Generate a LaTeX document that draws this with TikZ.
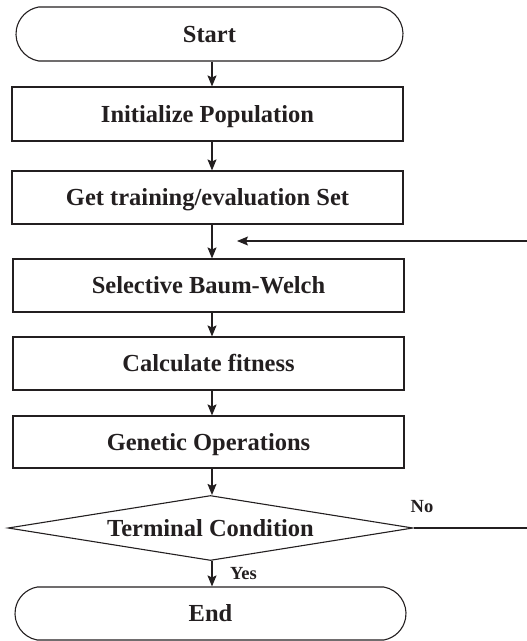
\documentclass[tikz,border=0pt]{standalone}
\usepackage{fontspec}
\setmainfont{Liberation Serif}
\usetikzlibrary{shapes.geometric,shapes.misc,arrows.meta}
\definecolor{ink}{HTML}{231F20}
\begin{document}
\begin{tikzpicture}[x=1pt,y=-1pt,
  every node/.style={text=ink,font=\fontsize{24.5}{29}\selectfont\bfseries},
  txt/.style={text height=16.2pt,text depth=0pt},
  proc/.style={txt,draw=ink,line width=1.1pt,rectangle,inner sep=0pt,minimum width=391pt,minimum height=53pt},
  term/.style={txt,draw=ink,line width=1.1pt,rounded rectangle,rounded rectangle arc length=160,inner sep=0pt,minimum height=54pt},
  cond/.style={txt,draw=ink,line width=1.1pt,diamond,aspect=6.2,inner sep=0pt,minimum width=405pt,minimum height=65pt},
  lbl/.style={font=\fontsize{18.5}{22}\selectfont\bfseries},
  conn/.style={draw=ink,line width=1.1pt},
  arr/.style={conn,-{Stealth[length=11pt,width=9pt,inset=2pt]}}]
\useasboundingbox (0,0) rectangle (527,641);
\node[term,minimum width=387pt] (start) at (209.5,34) {Start};
\node[proc,minimum height=54pt] (init) at (207.5,114) {Initialize Population};
\node[proc] (get) at (207.5,197.5) {Get training/evaluation Set};
\node[proc] (sel) at (208.5,285.5) {Selective Baum-Welch};
\node[proc] (calc) at (208.5,363.5) {Calculate fitness};
\node[proc,minimum height=52pt] (gen) at (208.5,442) {Genetic Operations};
\node[cond] (dec) at (210.5,528) {Terminal Condition};
\node[term,minimum width=391pt,minimum height=53pt] (end) at (210.5,613.5) {End};
\coordinate (ax) at (212,0);
\coordinate (fbR) at (527,241);
\coordinate (fbL) at (237,241);
\coordinate (noR) at (527,528);
\draw[arr] (start.south -| ax) -- (init.north -| ax);
\draw[arr] (init.south -| ax) -- (get.north -| ax);
\draw[arr] (get.south -| ax) -- (sel.north -| ax);
\draw[arr] (sel.south -| ax) -- (calc.north -| ax);
\draw[arr] (calc.south -| ax) -- (gen.north -| ax);
\draw[arr] (gen.south -| ax) -- (dec.north -| ax);
\draw[arr] (dec.south -| ax) -- (end.north -| ax);
\draw[arr] (fbR) -- (fbL);
\draw[conn] (dec.east) -- (noR);
\node[lbl] (no) at (422,507) {No};
\node[lbl] (yes) at (243.5,574) {Yes};
\end{tikzpicture}
\end{document}
